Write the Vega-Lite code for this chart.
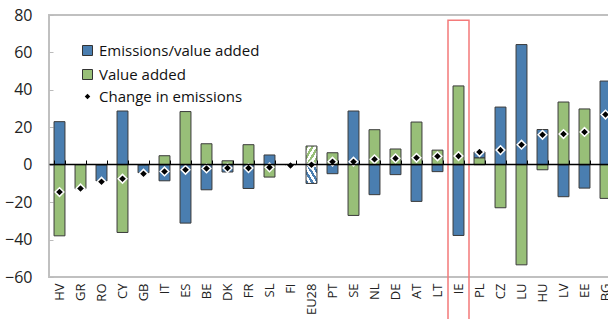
{
  "$schema": "https://vega.github.io/schema/vega-lite/v6.json",
  "autosize": {"type": "none"},
  "padding": {"left": 49, "top": 15, "right": 0, "bottom": 42},
  "width": 567,
  "height": 262,
  "config": {
    "font": "Open Sans",
    "view": {"stroke": "#c0c0c0", "strokeWidth": 2},
    "axisY": {"labelOverlap": false}
  },
  "title": {
    "text": "(in percent)",
    "color": "#8fb8de",
    "fontSize": 15,
    "fontWeight": "normal",
    "anchor": "middle",
    "dx": -8,
    "offset": 12,
    "baseline": "alphabetic"
  },
  "datasets": {
    "main": [
      {"country": "HV", "Emissions/value added": 23.0, "Value added": -38.0, "change": -14.6},
      {"country": "GR", "Emissions/value added": 0.0, "Value added": -12.8, "change": -12.7},
      {"country": "RO", "Emissions/value added": -8.7, "Value added": 0.0, "change": -9.1},
      {"country": "CY", "Emissions/value added": 28.7, "Value added": -36.2, "change": -7.5},
      {"country": "GB", "Emissions/value added": -4.3, "Value added": 0.0, "change": -4.8},
      {"country": "IT", "Emissions/value added": -8.6, "Value added": 4.8, "change": -3.6},
      {"country": "ES", "Emissions/value added": -31.2, "Value added": 28.4, "change": -2.7},
      {"country": "BE", "Emissions/value added": -13.4, "Value added": 11.2, "change": -2.0},
      {"country": "DK", "Emissions/value added": -3.9, "Value added": 2.1, "change": -1.8},
      {"country": "FR", "Emissions/value added": -12.7, "Value added": 10.7, "change": -1.8},
      {"country": "SL", "Emissions/value added": 5.2, "Value added": -6.6, "change": -1.4},
      {"country": "FI", "Emissions/value added": 0.0, "Value added": 0.0, "change": -0.4},
      {"country": "EU28", "Emissions/value added": -10.0, "Value added": 10.0, "change": 0.0},
      {"country": "PT", "Emissions/value added": -4.8, "Value added": 6.4, "change": 1.6},
      {"country": "SE", "Emissions/value added": 28.7, "Value added": -27.1, "change": 1.6},
      {"country": "NL", "Emissions/value added": -16.0, "Value added": 18.7, "change": 2.9},
      {"country": "DE", "Emissions/value added": -5.3, "Value added": 8.4, "change": 3.4},
      {"country": "AT", "Emissions/value added": -19.6, "Value added": 22.8, "change": 3.7},
      {"country": "LT", "Emissions/value added": -3.7, "Value added": 7.8, "change": 4.5},
      {"country": "IE", "Emissions/value added": -37.8, "Value added": 42.1, "change": 4.6},
      {"country": "PL", "Emissions/value added": 3.2, "Value added": 3.6, "change": 6.8},
      {"country": "CZ", "Emissions/value added": 30.8, "Value added": -23.0, "change": 7.8},
      {"country": "LU", "Emissions/value added": 64.2, "Value added": -53.5, "change": 10.7},
      {"country": "HU", "Emissions/value added": 18.8, "Value added": -2.7, "change": 16.0},
      {"country": "LV", "Emissions/value added": -17.1, "Value added": 33.5, "change": 16.4},
      {"country": "EE", "Emissions/value added": -12.5, "Value added": 29.8, "change": 17.5},
      {"country": "BG", "Emissions/value added": 44.7, "Value added": -18.0, "change": 26.8}
    ],
    "box": [
      {"country": "IE", "top": 77.2, "bottom": -95}
    ]
  },
  "resolve": {"axis": {"x": "independent", "y": "independent"}},
  "layer": [
    {
      "data": {"name": "main"},
      "transform": [
        {"filter": "datum.country !== 'EU28'"},
        {"fold": ["Emissions/value added", "Value added"], "as": ["component", "value"]}
      ],
      "mark": {"type": "bar", "stroke": "#3a3a3a", "strokeWidth": 1},
      "encoding": {
        "x": {
          "field": "country", "type": "nominal",
          "scale": {
            "domain": ["HV","GR","RO","CY","GB","IT","ES","BE","DK","FR","SL","FI","EU28","PT","SE","NL","DE","AT","LT","IE","PL","CZ","LU","HU","LV","EE","BG"],
            "paddingInner": 0.48, "paddingOuter": 0.24
          },
          "axis": {
            "orient": "bottom", "domain": false, "ticks": false, "labelAngle": -90,
            "labelFontSize": 13, "labelColor": "#222", "labelPadding": 6, "title": null
          }
        },
        "y": {
          "field": "value", "type": "quantitative", "stack": "zero",
          "scale": {"domain": [-60, 80], "nice": false},
          "axis": {
            "values": [-60, -40, -20, 0, 20, 40, 60, 80], "grid": false, "domain": false,
            "labelOverlap": false, "labelBound": false, "labelFlush": false,
            "tickSize": -4, "tickColor": "#bbbbbb", "labelFontSize": 16, "labelColor": "#222",
            "labelPadding": 21, "title": null
          }
        },
        "color": {
          "field": "component", "type": "nominal",
          "scale": {"domain": ["Emissions/value added", "Value added"], "range": ["#4a7eb0", "#98bf78"]},
          "legend": {
            "title": null, "orient": "none", "legendX": 31, "legendY": 28,
            "symbolType": "square", "symbolSize": 100, "symbolStrokeColor": "#333",
            "symbolStrokeWidth": 1, "labelFontSize": 15, "labelColor": "#111",
            "rowPadding": 8, "labelOffset": 4, "labelLimit": 400
          }
        }
      }
    },
    {
      "data": {"name": "main"},
      "transform": [
        {"filter": "datum.country === 'EU28'"},
        {"fold": ["Emissions/value added", "Value added"], "as": ["component", "value"]}
      ],
      "mark": {"type": "bar", "stroke": "#3a3a3a", "strokeWidth": 1},
      "encoding": {
        "x": {"field": "country", "type": "nominal", "axis": null},
        "y": {"field": "value", "type": "quantitative", "axis": null},
        "fill": {
          "condition": {
            "test": "datum.component === 'Value added'",
            "value": {"gradient": "linear", "x1": 0, "y1": 0, "x2": 1, "y2": 1, "stops": [
              {"offset": 0, "color": "#98bf78"}, {"offset": 0.125, "color": "#98bf78"},
              {"offset": 0.125, "color": "#ffffff"}, {"offset": 0.25, "color": "#ffffff"},
              {"offset": 0.25, "color": "#98bf78"}, {"offset": 0.375, "color": "#98bf78"},
              {"offset": 0.375, "color": "#ffffff"}, {"offset": 0.5, "color": "#ffffff"},
              {"offset": 0.5, "color": "#98bf78"}, {"offset": 0.625, "color": "#98bf78"},
              {"offset": 0.625, "color": "#ffffff"}, {"offset": 0.75, "color": "#ffffff"},
              {"offset": 0.75, "color": "#98bf78"}, {"offset": 0.875, "color": "#98bf78"},
              {"offset": 0.875, "color": "#ffffff"}, {"offset": 1, "color": "#ffffff"}
            ]}
          },
          "value": {"gradient": "linear", "x1": 0, "y1": 1, "x2": 1, "y2": 0, "stops": [
            {"offset": 0, "color": "#4a7eb0"}, {"offset": 0.125, "color": "#4a7eb0"},
            {"offset": 0.125, "color": "#ffffff"}, {"offset": 0.25, "color": "#ffffff"},
            {"offset": 0.25, "color": "#4a7eb0"}, {"offset": 0.375, "color": "#4a7eb0"},
            {"offset": 0.375, "color": "#ffffff"}, {"offset": 0.5, "color": "#ffffff"},
            {"offset": 0.5, "color": "#4a7eb0"}, {"offset": 0.625, "color": "#4a7eb0"},
            {"offset": 0.625, "color": "#ffffff"}, {"offset": 0.75, "color": "#ffffff"},
            {"offset": 0.75, "color": "#4a7eb0"}, {"offset": 0.875, "color": "#4a7eb0"},
            {"offset": 0.875, "color": "#ffffff"}, {"offset": 1, "color": "#ffffff"}
          ]}
        }
      }
    },
    {
      "data": {"name": "box"},
      "mark": {"type": "bar", "width": 21, "color": "#f47a7a", "fillOpacity": 0, "stroke": "#f47a7a", "strokeWidth": 1.5},
      "encoding": {
        "x": {"field": "country", "type": "nominal", "axis": null},
        "y": {"field": "top", "type": "quantitative", "axis": null},
        "y2": {"field": "bottom"}
      }
    },
    {
      "data": {"name": "main"},
      "mark": {"type": "point", "filled": true, "fill": "black", "stroke": "white", "strokeWidth": 1.5, "size": 75, "opacity": 1},
      "encoding": {
        "x": {
          "field": "country", "type": "nominal",
          "axis": {
            "orient": "top", "offset": -149, "labels": false, "domainColor": "black",
            "domainWidth": 1.5, "tickColor": "black", "tickSize": 4, "tickBand": "extent",
            "title": null, "zindex": 1
          }
        },
        "y": {"field": "change", "type": "quantitative", "axis": null},
        "shape": {
          "datum": "Change in emissions",
          "scale": {"range": ["diamond"]},
          "legend": {
            "title": null, "orient": "none", "legendX": 31, "legendY": 74,
            "symbolSize": 30, "symbolFillColor": "black", "symbolStrokeColor": "black",
            "symbolStrokeWidth": 0, "labelFontSize": 15, "labelColor": "#111", "labelOffset": 4,
            "labelLimit": 400
          }
        }
      }
    }
  ]
}
